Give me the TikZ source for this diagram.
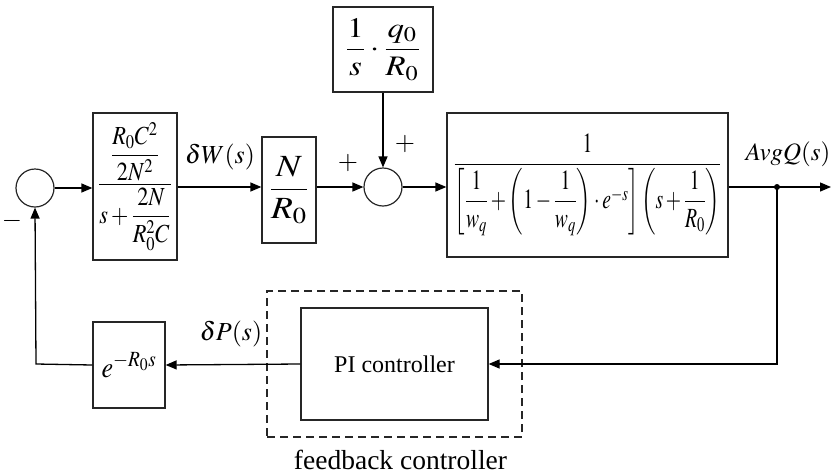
\documentclass[tikz,border=0pt]{standalone}
\usepackage{mathptmx}
\usepackage{amsmath}
\usepackage{graphicx}
\usepackage{fontspec}
\setmainfont{Liberation Serif}
\usetikzlibrary{arrows.meta}
\begin{document}
\begin{tikzpicture}[x=1pt,y=-1pt,
  blk/.style={draw=black!85, line width=1.3pt, inner sep=0pt, align=center},
  sumc/.style={draw=black!85, circle, line width=1.2pt, minimum size=38pt, inner sep=0pt},
  ln/.style={line width=1.3pt},
  arr/.style={ln, -{Triangle[length=11pt,width=9pt]}},
  fm/.style={font=\fontsize{21}{25}\selectfont},
  lab/.style={font=\fontsize{26}{30}\selectfont, inner sep=0pt}]
\useasboundingbox (0,0) rectangle (831,475);
% nodes
\node[sumc] (c1) at (35,188) {};
\node[blk, fm, minimum width=84pt, minimum height=147pt] (b1) at (135,186.5)
  {\resizebox*{74pt}{128pt}{$\dfrac{\dfrac{R_0C^2}{2N^2}}{s+\dfrac{2N}{R_0^2C}}$}};
\node[blk, fm, minimum width=54pt, minimum height=106pt] (b2) at (289,190)
  {\resizebox*{40pt}{67pt}{$\dfrac{N}{R_0}$}};
\node[sumc] (c2) at (383,187) {};
\node[blk, fm, minimum width=100pt, minimum height=85pt] (top) at (383,49.5)
  {\resizebox*{75pt}{62pt}{$\dfrac{1}{s}\cdot\dfrac{q_0}{R_0}$}};
\node[blk, fm, minimum width=281pt, minimum height=144pt] (big) at (587.5,185)
  {\resizebox*{268pt}{102pt}{$\dfrac{1}{\left[\dfrac{1}{w_q}+\left(1-\dfrac{1}{w_q}\right)\cdot e^{-s}\right]\left(s+\dfrac{1}{R_0}\right)}$}};
\node[blk, fm, minimum width=72pt, minimum height=86pt] (eb) at (129,365)
  {\resizebox*{55pt}{25pt}{$e^{-R_0s}$}};
\node[blk, minimum width=187pt, minimum height=112pt, font=\fontsize{24}{28}\selectfont] (pi) at (394.5,364)
  {PI controller};
\node[draw=black!85, line width=1.2pt, dash pattern=on 8pt off 5pt, minimum width=255pt, minimum height=146pt, inner sep=0pt] (fb) at (394.5,364) {};
\node[font=\fontsize{27.5}{31}\selectfont, inner sep=0pt] (fbl) at (400.5,460) {feedback controller};
% labels
\node[lab] (lw) at (220,157) {$\delta W(s)$};
\node[lab, font=\fontsize{25}{29}\selectfont] (lq) at (788,154) {$AvgQ(s)$};
\node[lab] (lp) at (231,334) {$\delta P(s)$};
\node[lab] (pl1) at (348,163) {$+$};
\node[lab] (pl2) at (405,144) {$+$};
\node[lab] (mn) at (12,221) {$-$};
\fill (777,187) circle (3pt) coordinate (dot);
\coordinate (oute) at (831,187);
\coordinate (lc) at (36,364);
% connectors
\draw[arr] (c1.east) -- (c1.east -| b1.west);
\draw[arr] (c2.west -| b1.east) -- (c2.west -| b2.west);
\draw[arr] (c2.west -| b2.east) -- (c2.west);
\draw[arr] (top.south) -- (c2.north);
\draw[arr] (c2.east) -- (c2.east -| big.west);
\draw[arr] (c2.east -| big.east) -- (oute);
\draw[arr] (dot) -- (dot |- pi.east) -- (pi.east);
\draw[arr] (pi.west) -- (eb.east);
\draw[arr] (eb.west) -- (lc) -- (c1.south);
\end{tikzpicture}
\end{document}
